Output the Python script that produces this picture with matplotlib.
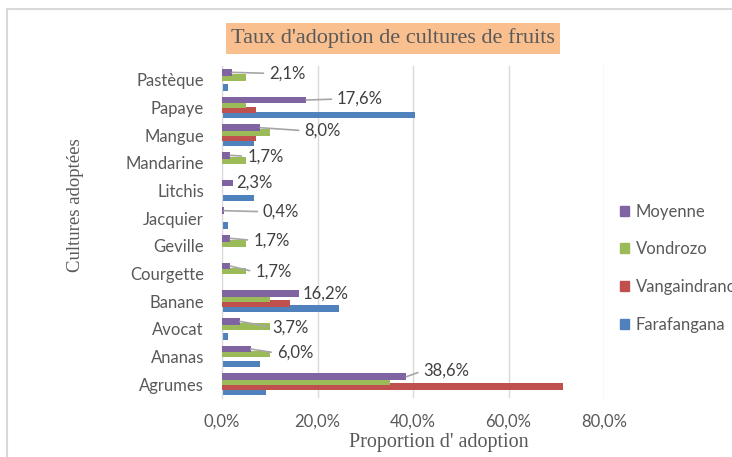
import matplotlib.pyplot as plt
import numpy as np
from matplotlib.patches import Patch, Rectangle
from matplotlib.ticker import FuncFormatter

plt.rcParams['font.family'] = ['Lato', 'DejaVu Sans']

cultures = ['Agrumes', 'Ananas', 'Avocat', 'Banane', 'Courgette', 'Geville',
            'Jacquier', 'Litchis', 'Mandarine', 'Mangue', 'Papaye', 'Pastèque']
farafangana = [9.3, 8.0, 1.2, 24.4, 0, 0, 1.2, 6.8, 0, 6.8, 40.5, 1.2]
vangaindrano = [71.4, 0, 0, 14.3, 0, 0, 0, 0, 0, 7.1, 7.1, 0]
vondrozo = [35.1, 10.0, 10.0, 10.0, 5.1, 5.1, 0, 0, 5.1, 10.0, 5.1, 5.1]
moyenne = [38.6, 6.0, 3.7, 16.2, 1.7, 1.7, 0.4, 2.3, 1.7, 8.0, 17.6, 2.1]

# label placement (pixels from bar end) and whether a leader line is drawn
lab_dx = [17, 26, 33, 3, 25, 23, 39, 3, 17, 44, 31, 37]
lab_dy = [6, -4, -6, 0, -6, -2, -1, 0, -1, -3, 1, -1]
leader = [True, True, True, False, True, True, True, False, True, True, True, True]

series = [('Farafangana', farafangana, '#4F81BD'),
          ('Vangaindrano', vangaindrano, '#C0504D'),
          ('Vondrozo', vondrozo, '#9BBB59'),
          ('Moyenne', moyenne, '#8064A2')]

grey = '#595959'
fig = plt.figure(figsize=(7.32, 4.57), dpi=100)
ax = fig.add_axes([222 / 732, 1 - 398 / 457, 382 / 732, 332 / 457])

y = np.arange(len(cultures))
step = 0.18
h = 0.24
for i, (name, vals, col) in enumerate(series):
    ax.barh(y + (i - 1.5) * step, vals, height=h, color=col, zorder=2 + i)

ypurple = y + 1.5 * step
for k in range(len(cultures)):
    txt = f'{moyenne[k]:.1f}%'.replace('.', ',')
    props = None
    if leader[k]:
        props = dict(arrowstyle='-', color='#A6A6A6', lw=1.2,
                     relpos=(0, 0.5), shrinkA=2, shrinkB=0)
    ax.annotate(txt, xy=(moyenne[k], ypurple[k]),
                xytext=(lab_dx[k], lab_dy[k]), textcoords='offset pixels',
                ha='left', va='center', fontsize=12, color='#404040',
                arrowprops=props, zorder=10)

ax.set_xlim(0, 80)
ax.set_ylim(-0.5, len(cultures) - 0.5)
ax.set_xticks([0, 20, 40, 60, 80])
ax.xaxis.set_major_formatter(FuncFormatter(lambda v, p: f'{v:.1f}%'.replace('.', ',')))
ax.set_yticks(y)
ax.set_yticklabels(cultures)
ax.tick_params(axis='x', length=0, pad=11, labelsize=12, labelcolor=grey)
ax.tick_params(axis='y', length=0, pad=13, labelsize=12, labelcolor=grey)
ax.grid(axis='x', color='#D9D9D9', lw=1, zorder=0)
for s in ['top', 'right', 'bottom']:
    ax.spines[s].set_visible(False)
ax.spines['left'].set_color('#D9D9D9')

fig.text(439 / 732, 1 - 442 / 457, "Proportion d' adoption", family='Liberation Serif',
         fontsize=14.5, color=grey, ha='center', va='center')
fig.text(75 / 732, 1 - 205 / 457, 'Cultures adoptées', family='Liberation Serif',
         fontsize=13.5, color=grey, ha='center', va='center', rotation=90)
fig.text(393 / 732, 1 - 38.5 / 457, "Taux d'adoption de cultures de fruits",
         family='Liberation Serif', fontsize=16, color=grey, ha='center', va='center',
         bbox=dict(boxstyle='square,pad=0.25', fc='#F9BF8F', ec='none'))

handles = [Patch(color=c, label=n) for n, v, c in series[::-1]]
fig.legend(handles=handles, loc='upper left', bbox_to_anchor=(613 / 732, 1 - 197 / 457),
           frameon=False, fontsize=12, labelcolor=grey, handlelength=0.55,
           handleheight=0.55, handletextpad=0.4, labelspacing=1.3, borderaxespad=0)

fig.add_artist(Rectangle((7.5 / 732, -0.1), 1.2, 1.1 - 9.5 / 457,
                         transform=fig.transFigure, fill=False, ec='#D9D9D9', lw=1.5))

fig.savefig('out.png', dpi=100)
